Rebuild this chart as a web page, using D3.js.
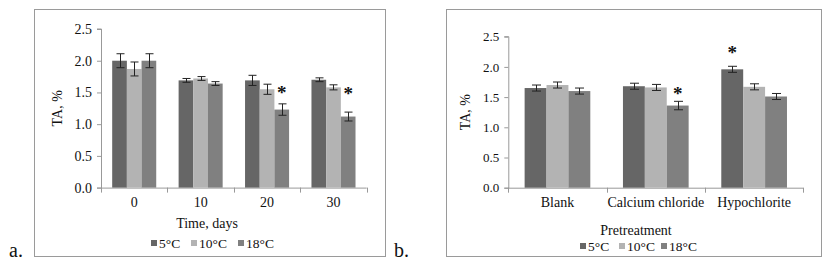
<!DOCTYPE html>
<html><head><meta charset="utf-8">
<script src="https://cdn.jsdelivr.net/npm/d3@7"></script>
<style>
html,body{margin:0;padding:0;background:#fff;}
svg{display:block;font-family:"Liberation Serif","Times New Roman",serif;}
</style></head>
<body>
<svg id="c" width="825" height="267"></svg>
<script>
// ---- data ----
const seriesNames = ["5°C", "10°C", "18°C"];
const seriesColors = ["#666666", "#b3b3b3", "#808080"];
const yTicks = [0, 0.5, 1.0, 1.5, 2.0, 2.5];

// panel a
const catsA = ["0", "10", "20", "30"];
const valsA = [
  [2.00, 1.69, 1.69, 1.70], // 5°C
  [1.87, 1.72, 1.55, 1.58], // 10°C
  [2.00, 1.64, 1.23, 1.12]  // 18°C
];
const errA = [
  [0.11, 0.03, 0.08, 0.03],
  [0.11, 0.03, 0.08, 0.04],
  [0.11, 0.03, 0.09, 0.07]
];
const starsA = [{cat: "20", s: 2, v: 1.55}, {cat: "30", s: 2, v: 1.54}];

// panel b
const catsB = ["Blank", "Calcium chloride", "Hypochlorite"];
const valsB = [
  [1.65, 1.68, 1.96],
  [1.70, 1.66, 1.67],
  [1.60, 1.36, 1.51]
];
const errB = [
  [0.05, 0.05, 0.05],
  [0.05, 0.05, 0.05],
  [0.05, 0.07, 0.05]
];
const starsB = [{cat: "Calcium chloride", s: 2, v: 1.62}, {cat: "Hypochlorite", s: 0, v: 2.29}];

const svg = d3.select("#c");

function panel(cfg) {
  const g = svg.append("g");
  g.append("rect").attr("x", cfg.frame[0] + 0.5).attr("y", cfg.frame[1] + 0.5)
    .attr("width", cfg.frame[2] - cfg.frame[0]).attr("height", cfg.frame[3] - cfg.frame[1])
    .attr("fill", "none").attr("stroke", "#9a9a9a").attr("stroke-width", 1);

  const x = d3.scaleBand().domain(cfg.cats).range([cfg.x0, cfg.x1])
    .paddingInner(cfg.pad).paddingOuter(cfg.pad / 2);
  const xs = d3.scaleBand().domain(d3.range(seriesNames.length)).range([0, x.bandwidth()]);
  const y = d3.scaleLinear().domain([0, 2.5]).range([cfg.yb, cfg.yt]);

  const ya = g.append("g").attr("transform", `translate(${cfg.x0},0)`)
    .call(d3.axisLeft(y).tickValues(yTicks).tickFormat(d3.format(".1f")).tickSize(4).tickPadding(5));
  ya.select(".domain").attr("stroke", "#999").attr("d", `M-4,${y(0)+0.5}H0.5V${y(2.5)}H-4`);
  ya.selectAll(".tick line").attr("stroke", "#999");
  ya.selectAll(".tick text").attr("fill", "#111").style("font-family", "Liberation Serif").style("font-size", cfg.tickFs + "px");

  const xa = g.append("g");
  xa.append("line").attr("x1", cfg.x0).attr("x2", cfg.x1).attr("y1", y(0) + 0.5).attr("y2", y(0) + 0.5).attr("stroke", "#999");
  const step = x.step();
  const bounds = d3.range(cfg.cats.length + 1).map(i => cfg.x0 + i * step);
  xa.selectAll(".xt").data(bounds).join("line")
    .attr("x1", d => Math.round(d) + 0.5).attr("x2", d => Math.round(d) + 0.5)
    .attr("y1", y(0)).attr("y2", y(0) + 5).attr("stroke", "#999");
  xa.selectAll(".xl").data(cfg.cats).join("text")
    .attr("x", d => x(d) + x.bandwidth() / 2).attr("y", y(0) + 19)
    .attr("text-anchor", "middle").attr("fill", "#111").style("font-size", cfg.catFs + "px").text(d => d);

  cfg.vals.forEach((arr, s) => {
    g.append("g").selectAll("rect").data(cfg.cats).join("rect")
      .attr("x", d => x(d) + xs(s)).attr("width", xs.bandwidth())
      .attr("y", (d, i) => y(arr[i])).attr("height", (d, i) => y(0) - y(arr[i]))
      .attr("fill", seriesColors[s]);
  });
  cfg.vals.forEach((arr, s) => {
    const eg = g.append("g").attr("stroke", "#222").attr("stroke-width", 1);
    cfg.cats.forEach((c, i) => {
      const cx = Math.round(x(c) + xs(s) + xs.bandwidth() / 2) + 0.5;
      const lo = y(arr[i] - cfg.err[s][i]), hi = y(arr[i] + cfg.err[s][i]);
      eg.append("line").attr("x1", cx).attr("x2", cx).attr("y1", lo).attr("y2", hi);
      eg.append("line").attr("x1", cx - cfg.cap).attr("x2", cx + cfg.cap).attr("y1", lo).attr("y2", lo);
      eg.append("line").attr("x1", cx - cfg.cap).attr("x2", cx + cfg.cap).attr("y1", hi).attr("y2", hi);
    });
  });
  g.selectAll(".star").data(cfg.stars).join("text")
    .attr("x", d => x(d.cat) + xs(d.s) + xs.bandwidth() / 2)
    .attr("y", d => y(d.v) + 10)
    .attr("text-anchor", "middle").attr("fill", "#111")
    .style("font-size", "19px").style("font-weight", "bold").text("*");

  g.append("text").attr("transform", `translate(${cfg.ytx},${(y(0) + y(2.5)) / 2}) rotate(-90)`)
    .attr("text-anchor", "middle").attr("dy", "0.35em").attr("fill", "#111")
    .style("font-size", "14px").text("TA, %");
  g.append("text").attr("x", cfg.xtx).attr("y", cfg.xty).attr("text-anchor", "middle")
    .attr("fill", "#111").style("font-size", "14px").text(cfg.xtitle);

  const lg = g.append("g");
  seriesNames.forEach((n, s) => {
    lg.append("rect").attr("x", cfg.leg[s]).attr("y", cfg.legY - 8).attr("width", 6).attr("height", 6).attr("fill", seriesColors[s]);
    lg.append("text").attr("x", cfg.leg[s] + 8).attr("y", cfg.legY).attr("fill", "#111")
      .style("font-size", "13.5px").text(n);
  });
}

panel({
  frame: [34, 9, 385, 256], cats: catsA, vals: valsA, err: errA, stars: starsA,
  x0: 101, x1: 366.7, yb: 187.6, yt: 29, pad: 0.337, cap: 4,
  tickFs: 14, catFs: 14, ytx: 57, xtitle: "Time, days", xtx: 207, xty: 228,
  leg: [151, 191, 238], legY: 248
});
panel({
  frame: [446, 9, 821, 256], cats: catsB, vals: valsB, err: errB, stars: starsB,
  x0: 508.3, x1: 803.3, yb: 187.7, yt: 36.7, pad: 0.332, cap: 4.5,
  tickFs: 13, catFs: 14, ytx: 465, xtitle: "Pretreatment", xtx: 636, xty: 235,
  leg: [580, 619, 661], legY: 251
});

svg.append("text").attr("x", 9).attr("y", 257).attr("fill", "#111").style("font-size", "20px").text("a.");
svg.append("text").attr("x", 394).attr("y", 257).attr("fill", "#111").style("font-size", "20px").text("b.");
</script>
</body></html>
